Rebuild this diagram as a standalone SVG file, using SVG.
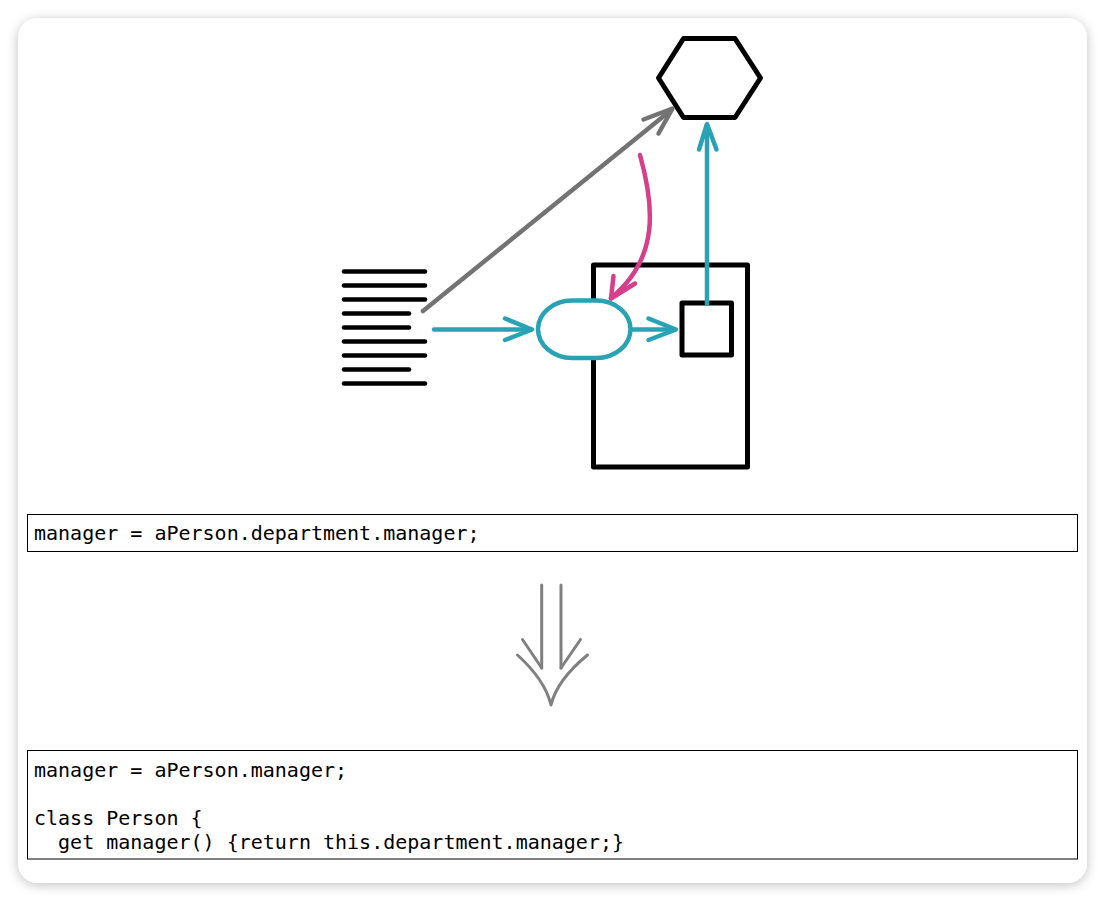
<svg xmlns="http://www.w3.org/2000/svg" width="1105" height="901" viewBox="0 0 1105 901">
<defs>
<filter id="sh" x="-5%" y="-5%" width="110%" height="110%">
<feGaussianBlur in="SourceAlpha" stdDeviation="6"/>
<feOffset dx="0" dy="2"/>
<feComponentTransfer><feFuncA type="linear" slope="0.25"/></feComponentTransfer>
<feMerge><feMergeNode/><feMergeNode in="SourceGraphic"/></feMerge>
</filter>
</defs>
<style>
.blk{fill:none;stroke:#000;stroke-width:5;stroke-linejoin:round;stroke-linecap:round}
.doc{stroke:#000;stroke-width:4.5;stroke-linecap:round}
.teal{fill:none;stroke:#29a3b4;stroke-width:4.5;stroke-linecap:round;stroke-linejoin:round}
.gray{fill:none;stroke:#737373;stroke-width:4.5;stroke-linecap:round;stroke-linejoin:round}
.pink{fill:none;stroke:#d63f8a;stroke-width:4.5;stroke-linecap:round;stroke-linejoin:round}
.dn{fill:none;stroke:#808080;stroke-width:3;stroke-linecap:round;stroke-linejoin:round}
.box{fill:#fff;stroke:#000;stroke-width:1}
.code{font-family:"DejaVu Sans Mono",monospace;font-size:20px;fill:#000}
</style>
<rect x="0" y="0" width="1105" height="901" fill="#fff"/>
<rect x="18" y="18" width="1069" height="865" rx="20" fill="#fff" filter="url(#sh)"/>

<g id="department">
<rect class="blk" x="593.5" y="265" width="154" height="202"/>
</g>
<g id="document">
<line class="doc" x1="344" y1="271.5" x2="425" y2="271.5"/>
<line class="doc" x1="344" y1="285.5" x2="425" y2="285.5"/>
<line class="doc" x1="344" y1="299.5" x2="425" y2="299.5"/>
<line class="doc" x1="344" y1="313.5" x2="409" y2="313.5"/>
<line class="doc" x1="344" y1="327.5" x2="409" y2="327.5"/>
<line class="doc" x1="344" y1="341.5" x2="425" y2="341.5"/>
<line class="doc" x1="344" y1="355.5" x2="425" y2="355.5"/>
<line class="doc" x1="344" y1="369.5" x2="409" y2="369.5"/>
<line class="doc" x1="344" y1="383.5" x2="425" y2="383.5"/>
</g>
<g id="manager">
<polygon class="blk" points="683.5,38.5 735,38.5 760.5,78 735,117.5 683.5,117.5 658.5,78"/>
</g>
<g id="method">
<rect x="538" y="300.5" width="92.5" height="57.5" rx="34" ry="28.75" fill="#fff" stroke="#29a3b4" stroke-width="4.5"/>
</g>
<g id="field">
<rect class="blk" x="682" y="303" width="49.5" height="52"/>
</g>

<g id="connectors">
<path class="gray" d="M423,311 L670,111"/>
<path class="gray" d="M643.5,119.5 L672.5,108.5 L658.5,133.5"/>
<path class="pink" d="M640,155 C654,205 660,258 611,298"/>
<path class="pink" d="M613.5,276 L611,298.5 L635,283.5"/>
<path class="teal" d="M434,329.5 L531,329.5"/>
<path class="teal" d="M505,318.5 L532,329.5 L505,340"/>
<path class="teal" d="M632,329.5 L675,329.5"/>
<path class="teal" d="M648.5,318.5 L676,329.5 L648.5,340"/>
<path class="teal" d="M707,304 L707,125"/>
<path class="teal" d="M699,149.5 L707,124 L716.5,149.5"/>
</g>

<g id="code-before">
<rect class="box" x="27.5" y="514.5" width="1050" height="37"/>
<text class="code" x="34" y="540">manager = aPerson.department.manager;</text>
</g>

<g id="transform-arrow">
<line class="dn" x1="541.7" y1="585" x2="541.7" y2="668"/>
<line class="dn" x1="561" y1="585" x2="561" y2="668"/>
<path class="dn" d="M522.5,639.5 L541.7,668"/>
<path class="dn" d="M580.5,639.5 L561,668"/>
<path class="dn" d="M517.5,655 Q545,680 551,705 Q557,680 587.5,655"/>
</g>

<g id="code-after">
<rect class="box" x="27.5" y="750.5" width="1050" height="108.5"/>
<text class="code" x="34" y="777">manager = aPerson.manager;</text>
<text class="code" x="34" y="825">class Person {</text>
<text class="code" x="34" y="849" xml:space="preserve">  get manager() {return this.department.manager;}</text>
</g>
</svg>
